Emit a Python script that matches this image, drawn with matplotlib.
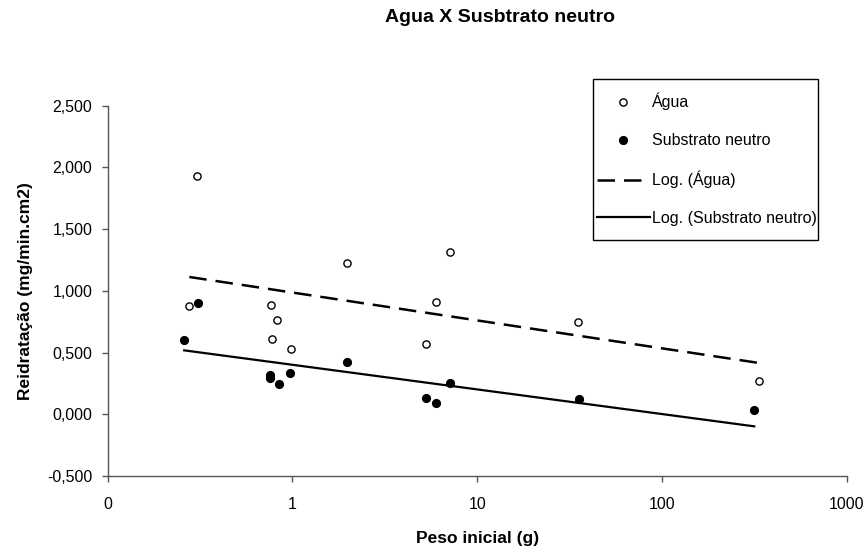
import numpy as np
import matplotlib
matplotlib.use("Agg")
import matplotlib.pyplot as plt
from matplotlib.ticker import FixedLocator, FuncFormatter, NullLocator
from matplotlib.patches import Rectangle

plt.rcParams['font.family'] = ['Liberation Sans', 'DejaVu Sans']

# Data
agua_x = [0.303, 0.277, 0.769, 0.822, 0.778, 0.987, 1.98, 7.10, 5.98, 5.28, 35.1, 334]
agua_y = [1.932, 0.877, 0.888, 0.764, 0.612, 0.529, 1.223, 1.312, 0.907, 0.572, 0.745, 0.267]
sub_x = [0.307, 0.260, 0.756, 0.756, 0.846, 0.975, 1.98, 5.28, 5.98, 7.10, 35.5, 315]
sub_y = [0.899, 0.602, 0.318, 0.296, 0.248, 0.337, 0.421, 0.134, 0.091, 0.256, 0.124, 0.032]

x_ticks = [0.1, 1, 10, 100, 1000]
x_tick_labels = ['0', '1', '10', '100', '1000']
y_ticks = [-0.5, 0.0, 0.5, 1.0, 1.5, 2.0, 2.5]

title = 'Agua X Susbtrato neutro'
xlabel = 'Peso inicial (g)'
ylabel = 'Reidratação (mg/min.cm2)'
labels = ['Água', 'Substrato neutro', 'Log. (Água)', 'Log. (Substrato neutro)']


def log_trend(x, y):
    x = np.asarray(x, float)
    y = np.asarray(y, float)
    c, b = np.polyfit(np.log(x), y, 1)
    xs = np.geomspace(x.min(), x.max(), 200)
    return xs, c * np.log(xs) + b


W, H = 867, 550
fig = plt.figure(figsize=(W / 100, H / 100), dpi=100)
ax = fig.add_axes([107.5 / W, 1 - 476 / H, (847 - 107.5) / W, (476 - 105.6) / H])

h1, = ax.plot(agua_x, agua_y, 'o', ls='none', ms=5.2, mfc='white', mec='black', mew=1.0, zorder=3)
h2, = ax.plot(sub_x, sub_y, 'o', ls='none', ms=5.6, mfc='black', mec='black', zorder=3)
tx, ty = log_trend(agua_x, agua_y)
h3, = ax.plot(tx, ty, color='black', lw=1.8, dashes=(7, 3.6))
sx, sy = log_trend(sub_x, sub_y)
h4, = ax.plot(sx, sy, color='black', lw=1.6, ls='-')

ax.set_xscale('log')
ax.set_xlim(0.1, 1000)
ax.set_ylim(-0.5, 2.5)
ax.xaxis.set_major_locator(FixedLocator(x_ticks))
ax.xaxis.set_minor_locator(NullLocator())
ax.set_xticklabels(x_tick_labels)
ax.yaxis.set_major_locator(FixedLocator(y_ticks))
ax.yaxis.set_major_formatter(FuncFormatter(lambda v, p: f'{v:.3f}'.replace('.', ',')))

for s in ['top', 'right']:
    ax.spines[s].set_visible(False)
for s in ['left', 'bottom']:
    ax.spines[s].set_color('#555555')
    ax.spines[s].set_linewidth(1.0)
ax.tick_params(axis='both', direction='out', length=4, width=1.0, color='#555555',
               labelsize=11.5, labelcolor='black')
ax.tick_params(axis='x', pad=11)
ax.tick_params(axis='y', pad=7)

ax.set_xlabel(xlabel, fontsize=12.5, fontweight='bold', labelpad=14)
ax.set_ylabel(ylabel, fontsize=12.5, fontweight='bold', labelpad=10)

fig.text(500 / W, 1 - 17 / H, title, ha='center', va='center', fontsize=14, fontweight='bold')

leg = ax.legend([h1, h2, h3, h4], labels, frameon=False, loc='center left',
                bbox_to_anchor=(597 / W, 1 - 159.5 / H), bbox_transform=fig.transFigure,
                borderpad=0, borderaxespad=0, handlelength=3.3, handletextpad=0.15,
                labelspacing=1.42, fontsize=11.5)
fig.add_artist(Rectangle((593 / W, 1 - 240 / H), (818 - 593) / W, (240 - 79) / H,
                         transform=fig.transFigure, fill=False, edgecolor='black', lw=1.0))

fig.savefig('out.png', dpi=100)
